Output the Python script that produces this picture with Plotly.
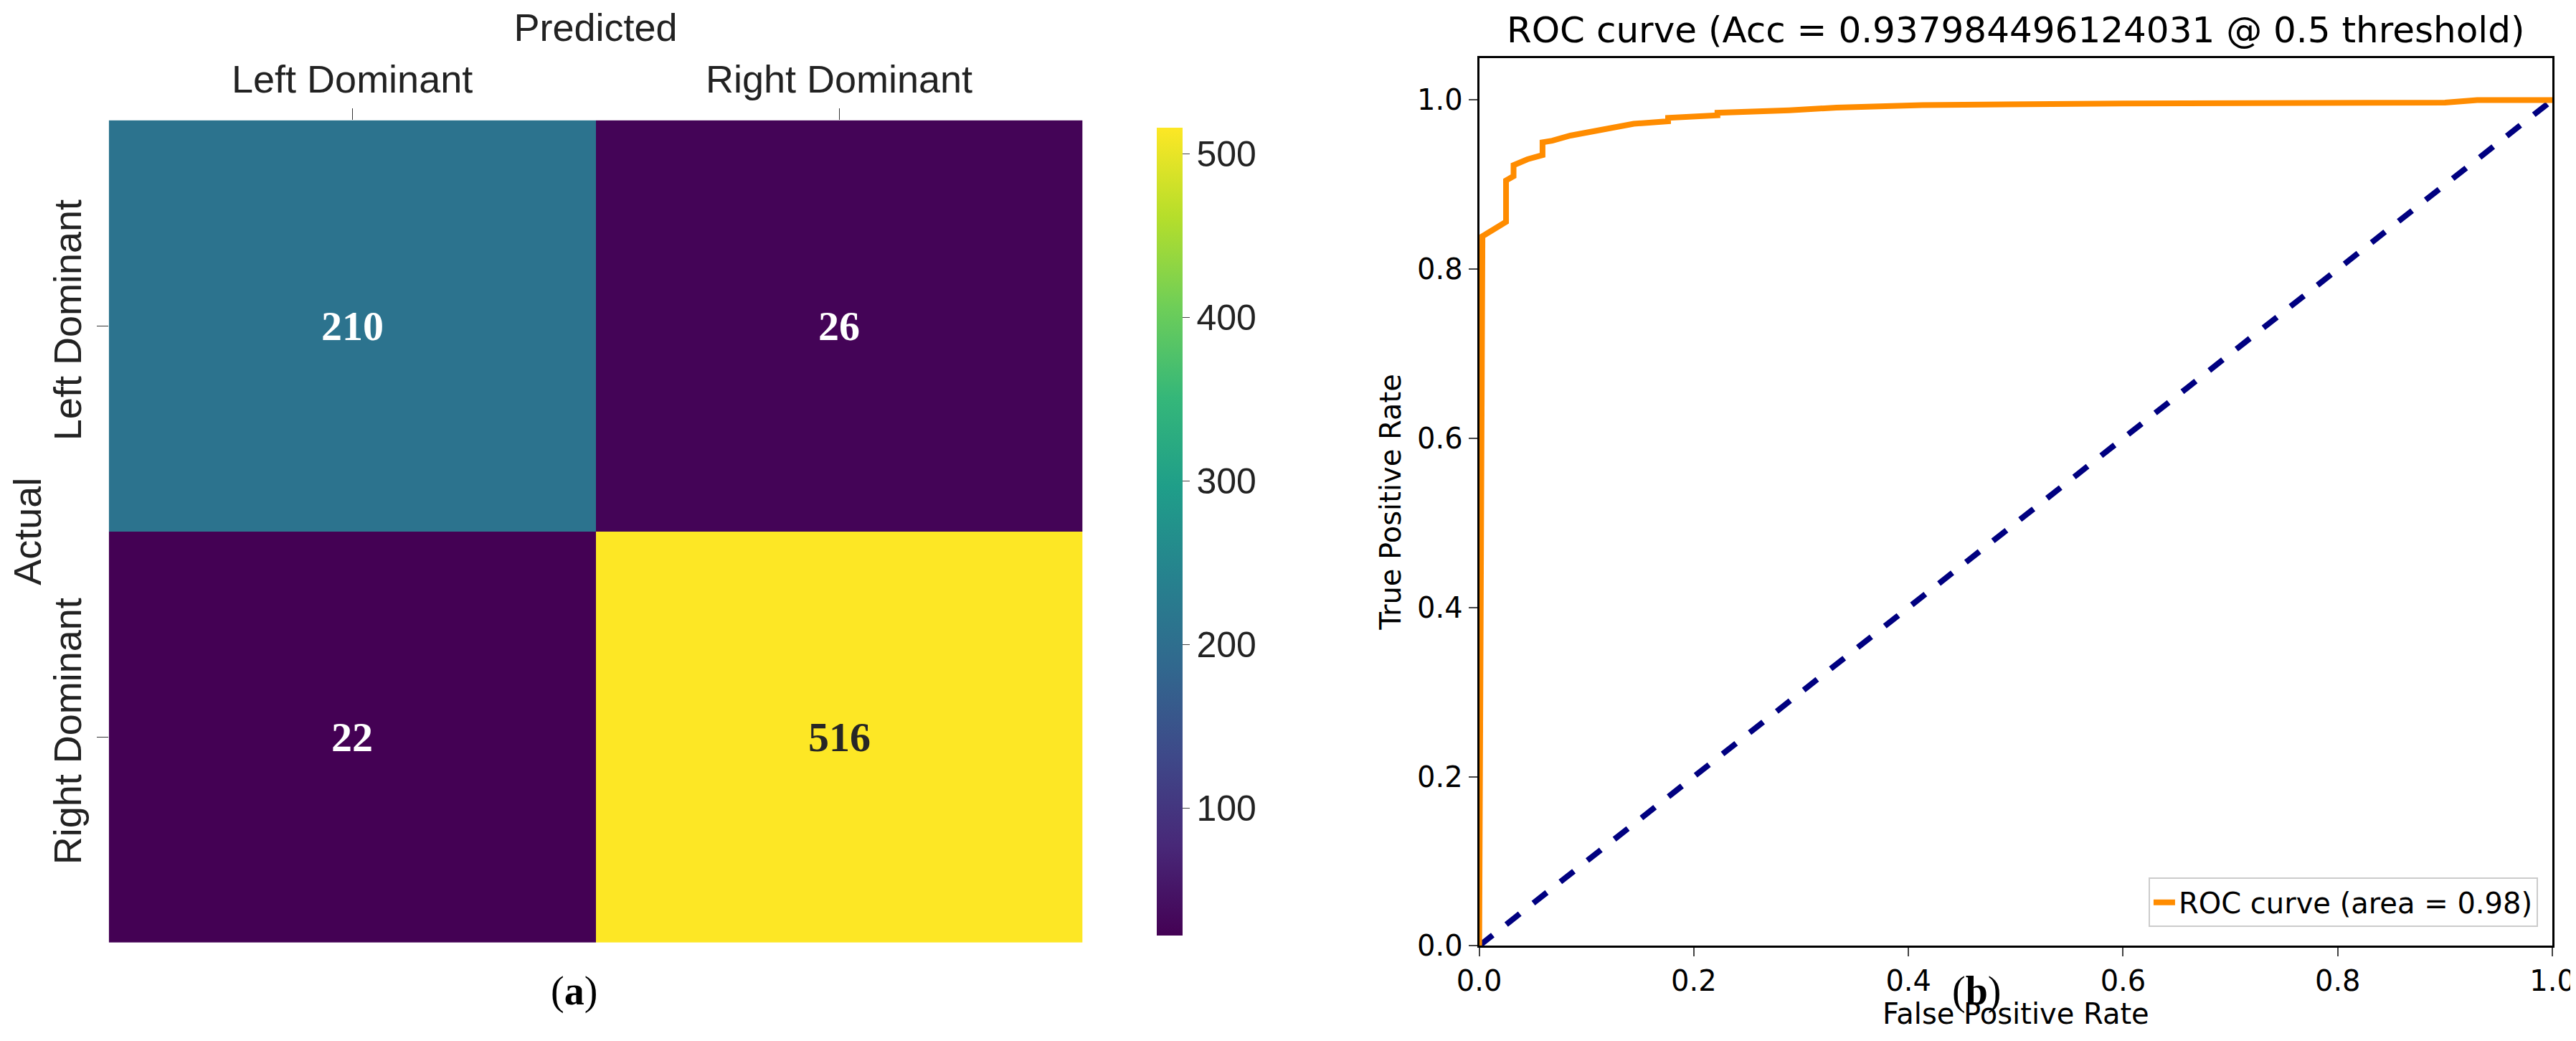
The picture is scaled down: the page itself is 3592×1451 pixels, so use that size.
import plotly.graph_objects as go

# confusion matrix
classes = ["Left Dominant", "Right Dominant"]
cm = [[210, 26],
      [22, 516]]
cbar_ticks = [100, 200, 300, 400, 500]

# ROC curve
fpr = [0.0, 0.003, 0.003, 0.025, 0.025, 0.032, 0.032, 0.045, 0.059, 0.059,
       0.068, 0.085, 0.124, 0.144, 0.176, 0.176, 0.222, 0.222, 0.289, 0.333,
       0.413, 0.6, 0.9, 0.93, 1.0]
tpr = [0.0, 0.68, 0.839, 0.856, 0.905, 0.91, 0.923, 0.93, 0.935, 0.95,
       0.952, 0.958, 0.967, 0.972, 0.975, 0.979, 0.982, 0.985, 0.988, 0.991,
       0.994, 0.996, 0.997, 1.0, 1.0]
acc = 0.937984496124031
roc_auc = 0.98

fig = go.Figure()

fig.add_trace(go.Heatmap(
    z=cm, x=classes, y=classes, colorscale="Viridis", zmin=22, zmax=516,
    xaxis="x", yaxis="y", showscale=True,
    colorbar=dict(x=0.444, xanchor="left", y=0.10, yanchor="bottom", len=0.79,
                  lenmode="fraction", thickness=36, outlinewidth=0,
                  tickvals=cbar_ticks, ticks="outside", ticklen=10,
                  tickfont=dict(family="Liberation Sans", size=50, color="#222")),
))
for i, row in enumerate(cm):
    for j, v in enumerate(row):
        fig.add_annotation(x=classes[j], y=classes[i], xref="x", yref="y", text=f"<b>{v}</b>",
                           showarrow=False,
                           font=dict(family="Liberation Serif", size=58,
                                     color="#262626" if v > 300 else "white"))

fig.add_trace(go.Scatter(x=[0, 1], y=[0, 1], mode="lines", showlegend=False,
                         line=dict(color="navy", width=8, dash="dash"),
                         xaxis="x2", yaxis="y2"))
fig.add_trace(go.Scatter(x=fpr, y=tpr, mode="lines", name=f"ROC curve (area = {roc_auc:.2f})",
                         line=dict(color="darkorange", width=8),
                         xaxis="x2", yaxis="y2"))

tick_font = dict(family="DejaVu Sans", size=40, color="black")
hm_font = dict(family="Liberation Sans", size=54, color="#222")
fig.update_layout(
    width=3592, height=1451, margin=dict(l=0, r=0, t=0, b=0),
    paper_bgcolor="white", plot_bgcolor="white",
    xaxis=dict(domain=[0.040, 0.418], side="top", ticks="outside", ticklen=16,
               tickcolor="#333", showgrid=False, zeroline=False, automargin=False,
               tickfont=hm_font,
               title=dict(text="Predicted", font=hm_font, standoff=6)),
    yaxis=dict(domain=[0.10, 0.89], autorange="reversed", ticks="outside", ticklen=16,
               tickcolor="#333", tickangle=-90, showgrid=False, zeroline=False, automargin=False,
               tickfont=hm_font,
               title=dict(text="Actual", font=hm_font, standoff=6)),
    xaxis2=dict(domain=[0.572, 0.9886], range=[0, 1], anchor="y2", showline=True, mirror=True,
                linecolor="black", linewidth=3, ticks="outside", ticklen=12, tickwidth=2,
                dtick=0.2, tickformat=".1f", showgrid=False, zeroline=False, tickfont=tick_font,
                automargin=False,
                title=dict(text="False Positive Rate", font=tick_font, standoff=6)),
    yaxis2=dict(domain=[0.097, 0.95], range=[0, 1.05], anchor="x2", showline=True, mirror=True,
                linecolor="black", linewidth=3, ticks="outside", ticklen=12, tickwidth=2,
                tickvals=[0, 0.2, 0.4, 0.6, 0.8, 1.0], tickformat=".1f", showgrid=False,
                zeroline=False, tickfont=tick_font, automargin=False,
                title=dict(text="True Positive Rate", font=tick_font, standoff=10)),
    legend=dict(x=0.983, xanchor="right", y=0.115, yanchor="bottom", bordercolor="#ccc",
                borderwidth=2, bgcolor="white",
                font=dict(family="DejaVu Sans", size=40, color="black")),
)

fig.add_annotation(xref="paper", yref="paper", x=0.7803, xanchor="center", y=0.955,
                   yanchor="bottom", showarrow=False,
                   text=f"ROC curve (Acc = {acc} @ 0.5 threshold)",
                   font=dict(family="DejaVu Sans", size=50, color="black"))
fig.add_annotation(xref="paper", yref="paper", x=0.211, y=0.03, showarrow=False,
                   text="(<b>a</b>)", font=dict(family="Liberation Serif", size=56, color="black"))
fig.add_annotation(xref="paper", yref="paper", x=0.775, y=0.03, showarrow=False,
                   text="(<b>b</b>)", font=dict(family="Liberation Serif", size=56, color="black"))

fig.write_html("out.html")
